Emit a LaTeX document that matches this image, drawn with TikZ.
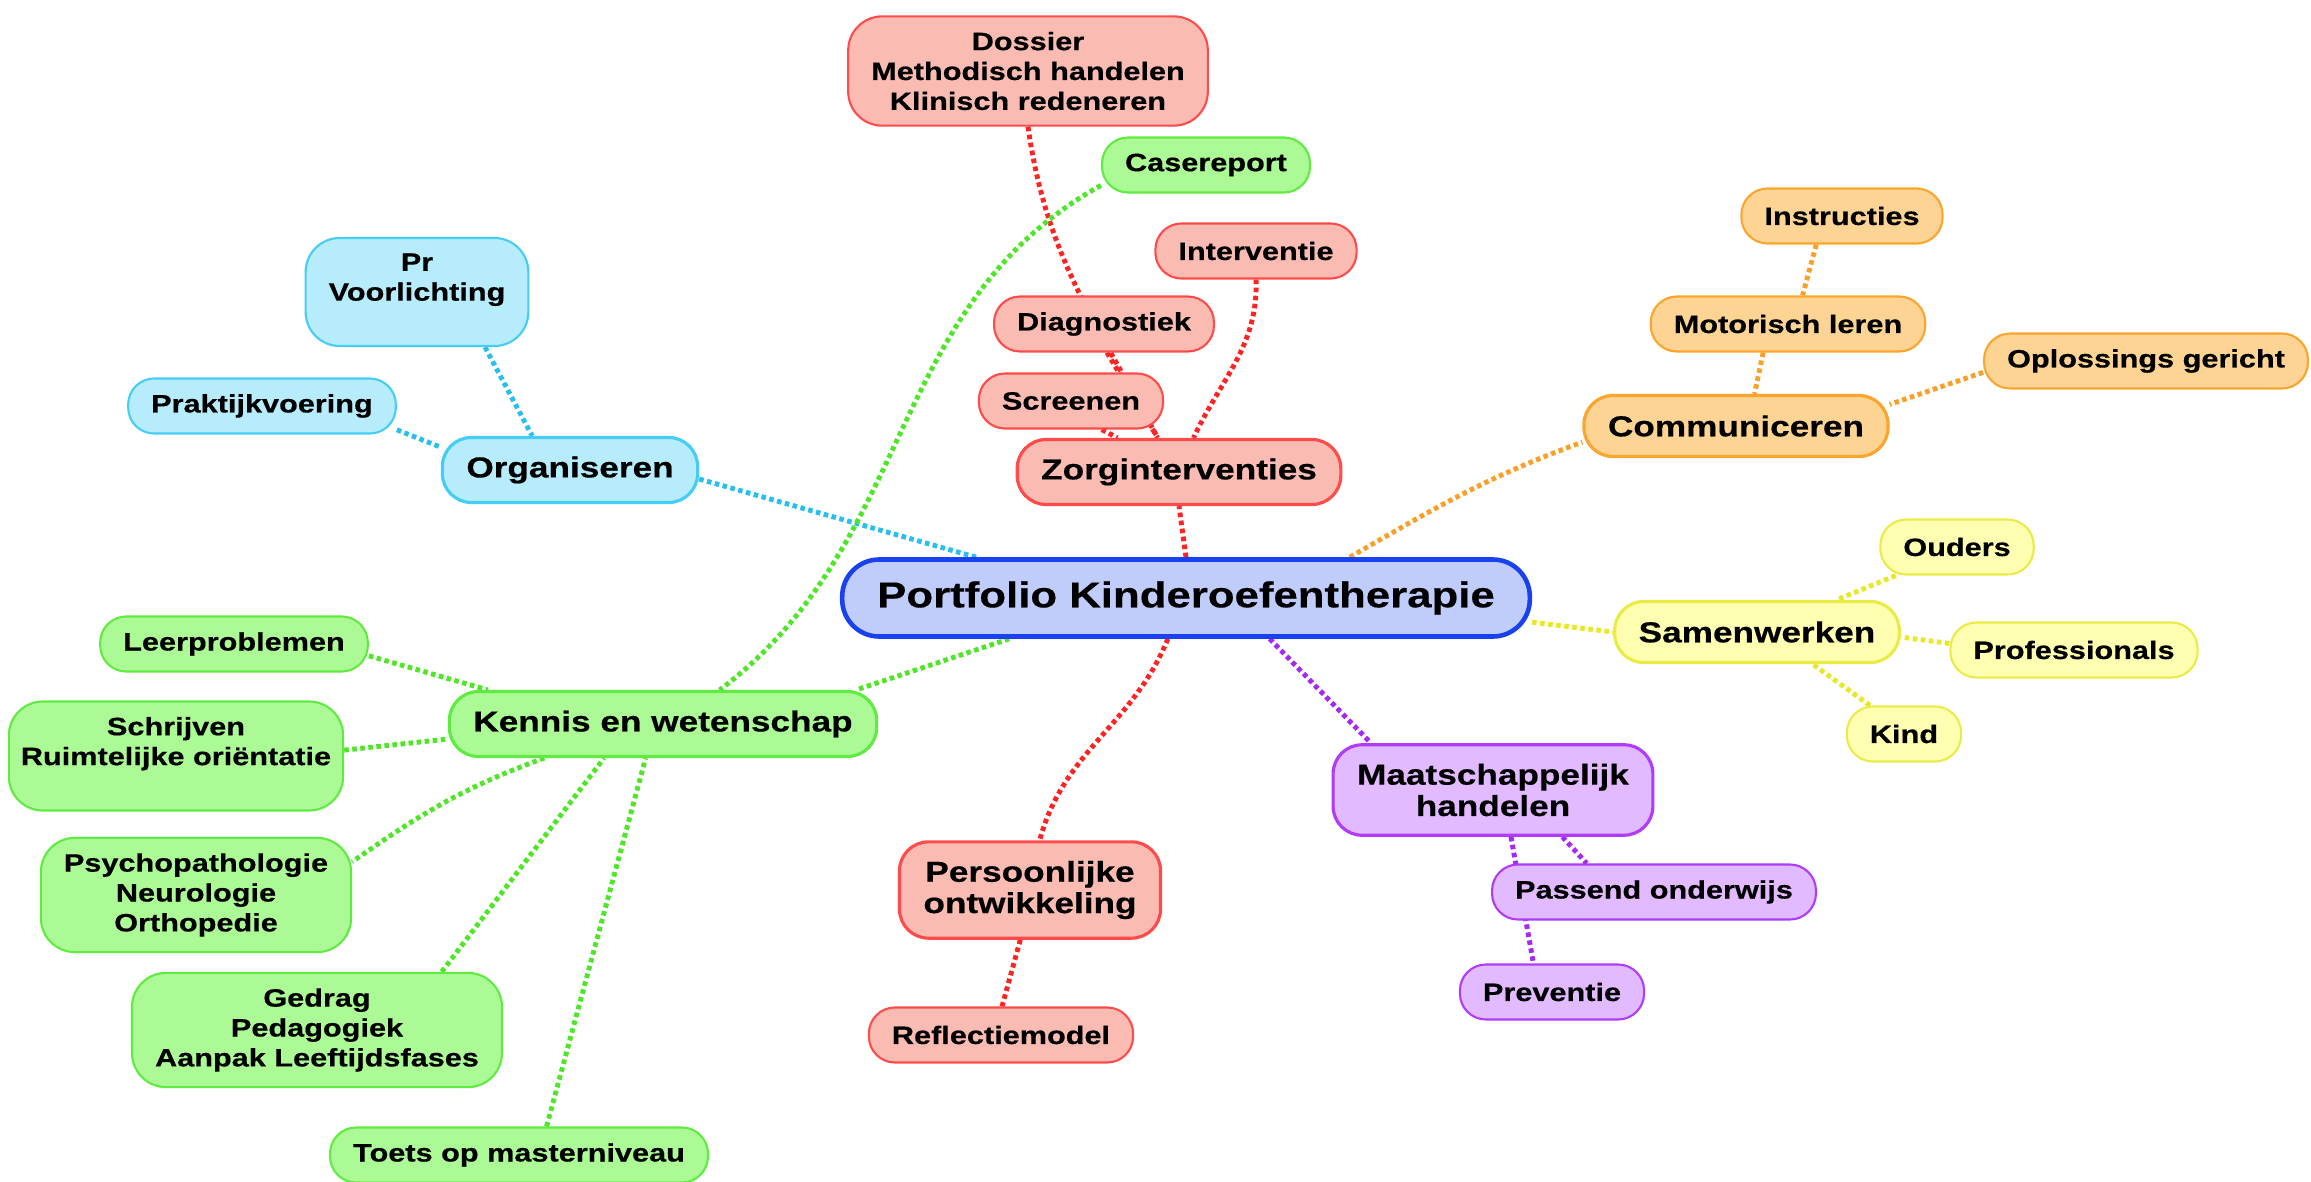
\documentclass[tikz,border=0pt]{standalone}
\usepackage{fontspec}
\setmainfont{Liberation Sans}[FakeStretch=1.22, BoldFeatures={FakeBold=0.5}]
\usetikzlibrary{backgrounds}

\definecolor{kernvul}{RGB}{192,205,250}
\definecolor{kernrand}{RGB}{25,65,240}
\definecolor{roodvul}{RGB}{250,188,178}
\definecolor{roodrand}{RGB}{255,75,75}
\definecolor{roodlijn}{RGB}{255,35,35}
\definecolor{groenvul}{RGB}{172,250,150}
\definecolor{groenrand}{RGB}{95,235,65}
\definecolor{groenlijn}{RGB}{80,230,40}
\definecolor{blauwvul}{RGB}{182,236,252}
\definecolor{blauwrand}{RGB}{70,205,245}
\definecolor{blauwlijn}{RGB}{40,190,240}
\definecolor{oranjevul}{RGB}{253,212,148}
\definecolor{oranjerand}{RGB}{250,165,45}
\definecolor{oranjelijn}{RGB}{250,160,40}
\definecolor{geelvul}{RGB}{255,255,178}
\definecolor{geelrand}{RGB}{235,235,70}
\definecolor{geellijn}{RGB}{232,232,40}
\definecolor{paarsvul}{RGB}{225,186,255}
\definecolor{paarsrand}{RGB}{175,60,250}
\definecolor{paarslijn}{RGB}{165,40,245}

\tikzset{
  kern/.style={
    rectangle, rounded corners=0.37cm, minimum height=0.77cm, inner xsep=0.35cm,
    draw=kernrand, fill=kernvul, line width=1.3pt,
    font=\bfseries\fontsize{10.2}{11}\selectfont
  },
  tak/.style={
    rectangle, rounded corners=0.29cm, minimum height=0.61cm, inner xsep=0.24cm,
    inner ysep=0.19cm, align=center, draw=#1rand, fill=#1vul, line width=0.9pt,
    font=\bfseries\fontsize{8.2}{8.9}\selectfont
  },
  blad/.style={
    rectangle, rounded corners=0.26cm, minimum height=0.55cm, inner xsep=0.23cm,
    inner ysep=0.155cm, align=center, draw=#1rand, fill=#1vul, line width=0.6pt,
    font=\bfseries\fontsize{7.15}{8.5}\selectfont
  },
  lijn/.style={
    draw=#1lijn, line width=1.4pt, dash pattern=on 1.3pt off 1pt
  }
}

\begin{document}
\begin{tikzpicture}[x=0.01cm, y=-0.01cm]
\useasboundingbox (0,0) rectangle (2311,1182);
\clip (0,0) rectangle (2311,1182);

\node[kern] (root) at (1186,598) {Portfolio Kinderoefentherapie};
\node[tak=rood] (zorg) at (1179,472) {Zorginterventies};
\node[tak=blauw] (org) at (570,470) {Organiseren};
\node[tak=oranje] (comm) at (1736,426) {Communiceren};
\node[tak=geel] (samen) at (1757,632) {Samenwerken};
\node[tak=paars] (maat) at (1493,790) {Maatschappelijk\\handelen};
\node[tak=rood] (pers) at (1030,890) {Persoonlijke\\ontwikkeling};
\node[tak=groen] (kennis) at (663,724) {Kennis en wetenschap};

\node[blad=rood, rounded corners=0.34cm] (dossier) at (1028,71) {Dossier\\Methodisch handelen\\Klinisch redeneren};
\node[blad=groen] (case) at (1206,165) {Casereport};
\node[blad=rood] (interv) at (1256,251) {Interventie};
\node[blad=rood] (diag) at (1104,324) {Diagnostiek};
\node[blad=rood] (screen) at (1071,401) {Screenen};
\node[blad=blauw, rounded corners=0.34cm] (voorl) at (417,292) {Pr\\Voorlichting\\~};
\node[blad=blauw] (prakt) at (262,406) {Praktijkvoering};
\node[blad=oranje] (motor) at (1788,324) {Motorisch leren};
\node[blad=oranje] (instr) at (1842,216) {Instructies};
\node[blad=oranje] (oplos) at (2146,361) {Oplossings gericht};
\node[blad=geel] (ouders) at (1957,547) {Ouders};
\node[blad=geel] (prof) at (2074,650) {Professionals};
\node[blad=geel] (kind) at (1904,734) {Kind};
\node[blad=paars] (passend) at (1654,892) {Passend onderwijs};
\node[blad=paars] (prev) at (1552,992) {Preventie};
\node[blad=rood] (reflect) at (1001,1035) {Reflectiemodel};
\node[blad=groen] (leer) at (234,644) {Leerproblemen};
\node[blad=groen, rounded corners=0.34cm, inner xsep=0.12cm] (schrijf) at (176,756) {Schrijven\\Ruimtelijke oriëntatie\\~};
\node[blad=groen, rounded corners=0.34cm] (psycho) at (196,895) {Psychopathologie\\Neurologie\\Orthopedie};
\node[blad=groen, rounded corners=0.34cm] (gedrag) at (317,1030) {Gedrag\\Pedagogiek\\Aanpak Leeftijdsfases};
\node[blad=groen] (toets) at (519,1155) {Toets op masterniveau};

\begin{scope}[on background layer]
\draw[lijn=rood] (root.north) -- (zorg.south);
\draw[lijn=blauw] (root.169) -- (org.-4);
\draw[lijn=groen] (root.193) -- (kennis.10);
\draw[lijn=oranje] (root.14) to[out=30, in=200] (comm.186);
\draw[lijn=geel] (root.-4) -- (samen.west);
\draw[lijn=paars] (root.-26) -- (maat.159);
\draw[lijn=rood] (root.246) to[out=-112, in=75] (pers.79);

\draw[lijn=rood] (dossier.south) to[out=-82, in=118] (zorg.122);
\draw[lijn=rood] (diag.-84) -- (zorg.122);
\draw[lijn=rood] (screen.-43) -- (zorg.151);
\draw[lijn=rood] (interv.south) to[out=-88, in=65] (zorg.67);

\draw[lijn=blauw] (voorl.-39) -- (org.138);
\draw[lijn=blauw] (prakt.-10) -- (org.170);

\draw[lijn=oranje] (motor.-131) -- (comm.60);
\draw[lijn=oranje] (instr.-132) -- (motor.63);
\draw[lijn=oranje] (oplos.184) -- (comm.8);

\draw[lijn=geel] (ouders.-155) -- (samen.22);
\draw[lijn=geel] (prof.177) -- (samen.-2);
\draw[lijn=geel] (kind.140) -- (samen.-30);

\draw[lijn=paars] (maat.-34) -- (passend.157);
\draw[lijn=paars] (maat.-69) -- (prev.123);

\draw[lijn=rood] (pers.-101) -- (reflect.88);

\draw[lijn=groen] (case.191) to[out=209, in=37] (kennis.31);
\draw[lijn=groen] (leer.-5) -- (kennis.169);
\draw[lijn=groen] (schrijf.2) -- (kennis.184);
\draw[lijn=groen] (kennis.196) to[out=200, in=35] (psycho.12);
\draw[lijn=groen] (gedrag.25) -- (kennis.210);
\draw[lijn=groen] (toets.46) -- (kennis.243);
\end{scope}
\end{tikzpicture}
\end{document}
